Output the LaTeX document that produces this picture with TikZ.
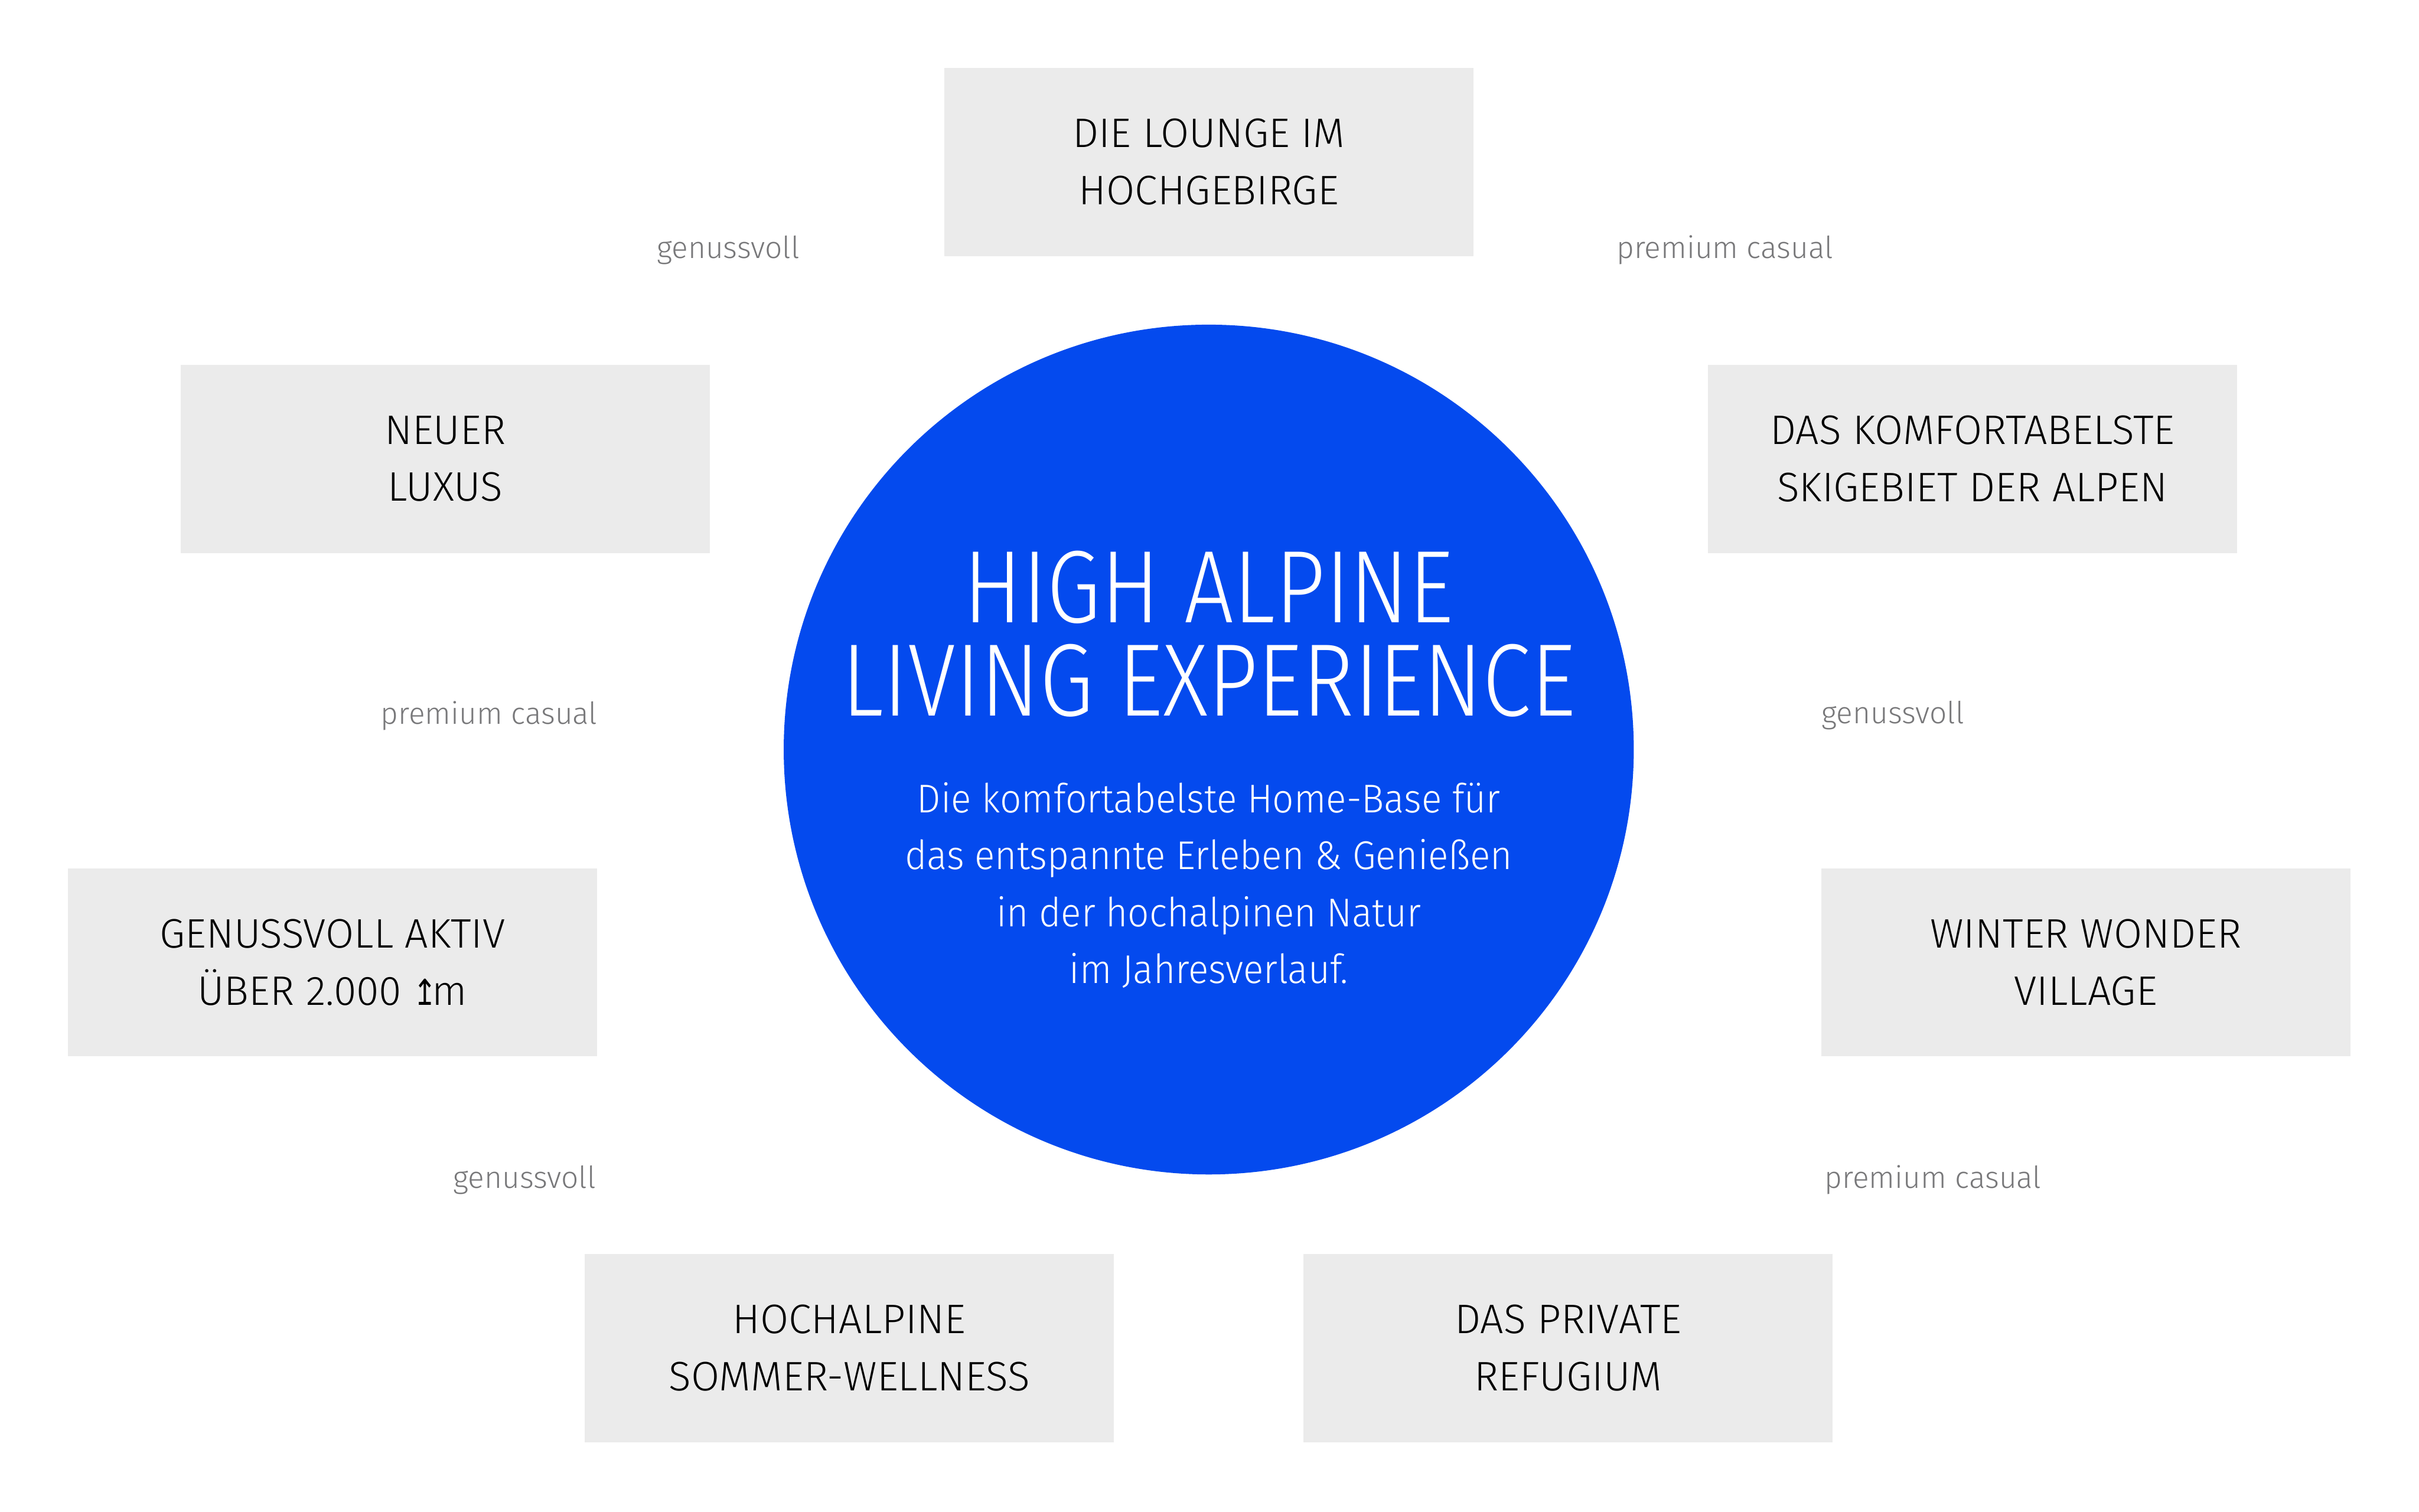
\documentclass[tikz,border=0pt]{standalone}
\usepackage{fontspec}
\setmainfont{Fira Sans Light}
\newfontfamily\bodyfont{Fira Sans Light}[FakeStretch=0.94]
\newfontfamily\labelfont{Fira Sans Light}
\newfontfamily\titlefont{Fira Sans Light}[FakeStretch=0.85]
\newfontfamily\symf{DejaVu Sans}[FakeStretch=0.8]
\definecolor{alpblue}{HTML}{044AEE}
\definecolor{boxgray}{HTML}{EBEBEB}
\definecolor{lblgray}{HTML}{78787A}
\tikzset{
  topic/.style={fill=boxgray, minimum width=3.43cm, minimum height=1.22cm, inner sep=0pt,
    align=center, text=black, font=\fontsize{7.6pt}{10.5pt}\selectfont},
  tag/.style={text=lblgray, inner sep=0pt, font=\labelfont\fontsize{5.6pt}{7pt}\selectfont},
  hub/.style={circle, fill=alpblue, minimum size=5.51cm, inner sep=0pt}
}
\begin{document}
\begin{tikzpicture}
\useasboundingbox (0,0) rectangle (15.68,9.80);
\fill[white] (0,0) rectangle (15.68,9.80);
\node[hub] (hub) at (7.835,4.94) {};
\node[text=white, align=center, inner sep=0pt, font=\titlefont\fontsize{19pt}{17.2pt}\selectfont] (title) at (7.835,5.69) {HIGH ALPINE\\LIVING EXPERIENCE};
\node[text=white, align=center, inner sep=0pt, font=\bodyfont\fontsize{7.4pt}{10.5pt}\selectfont] (sub) at (7.835,4.06) {Die komfortabelste Home-Base für\\das entspannte Erleben \& Genießen\\in der hochalpinen Natur\\im Jahresverlauf.};
\node[topic] (lounge) at (7.835,8.75) {DIE LOUNGE IM\\HOCHGEBIRGE};
\node[topic] (luxus) at (2.885,6.825) {NEUER\\LUXUS};
\node[topic] (ski) at (12.785,6.825) {DAS KOMFORTABELSTE\\SKIGEBIET DER ALPEN};
\node[topic] (aktiv) at (2.155,3.56) {GENUSSVOLL AKTIV\\ÜBER 2.000 {\symf\fontsize{6.6pt}{8pt}\selectfont ↥}\kern-0.12em m};
\node[topic] (winter) at (13.52,3.56) {WINTER WONDER\\VILLAGE};
\node[topic] (wellness) at (5.505,1.06) {HOCHALPINE\\SOMMER-WELLNESS};
\node[topic] (refugium) at (10.165,1.06) {DAS PRIVATE\\REFUGIUM};
\node[tag] (t1) at (4.72,8.18) {genussvoll};
\node[tag] (t2) at (11.18,8.18) {premium casual};
\node[tag] (t3) at (3.17,5.16) {premium casual};
\node[tag] (t4) at (12.27,5.16) {genussvoll};
\node[tag] (t5) at (3.40,2.15) {genussvoll};
\node[tag] (t6) at (12.53,2.15) {premium casual};
\end{tikzpicture}
\end{document}
